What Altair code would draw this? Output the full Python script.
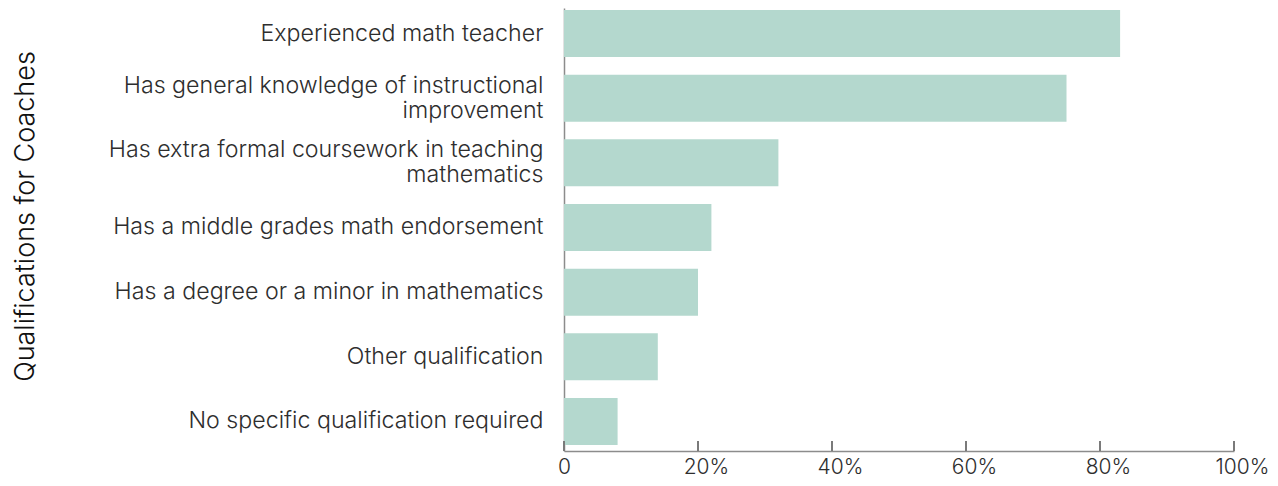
import altair as alt
import pandas as pd

categories = [
    "Experienced math teacher",
    "Has general knowledge of instructional\nimprovement",
    "Has extra formal coursework in teaching\nmathematics",
    "Has a middle grades math endorsement",
    "Has a degree or a minor in mathematics",
    "Other qualification",
    "No specific qualification required",
]
values = [83, 75, 32, 22, 20, 14, 8]
tick_values = [0, 20, 40, 60, 80, 100]

W = 670
H = 443
FONT = "Inter"
TEXT = "#2e2e2e"
AXIS = "#8c8c8c"

df = pd.DataFrame({"category": categories, "value": values})
ticks = pd.DataFrame({"t": tick_values})

bars = alt.Chart(df).mark_bar(color="#b4d8ce").encode(
    x=alt.X(
        "value:Q",
        scale=alt.Scale(domain=[0, 100], nice=False),
        axis=alt.Axis(
            values=tick_values,
            labelExpr="datum.value == 0 ? '0' : datum.value + '%'",
            labelOffset=alt.condition("datum.value == 0", alt.value(0), alt.value(8)),
            title=None,
            grid=False,
            ticks=False,
            domainColor=AXIS,
            domainWidth=1.5,
            labelFont=FONT,
            labelFontSize=21,
            labelFontWeight=300,
            labelColor=TEXT,
            labelPadding=5,
            labelFlush=False,
        ),
    ),
    y=alt.Y(
        "category:N",
        sort=None,
        scale=alt.Scale(paddingInner=0.273, paddingOuter=0.062, align=0.25),
        axis=alt.Axis(
            title="Qualifications for Coaches",
            titleFont=FONT,
            titleFontSize=27,
            titleFontWeight=300,
            titleColor="#111111",
            titleAngle=-90,
            titleAlign="center",
            titleBaseline="middle",
            titleX=-539,
            titleY=208,
            labelExpr="split(datum.label, '\\n')",
            labelOffset=alt.condition(
                "indexof(datum.value, '\\n') >= 0", alt.value(-12.5), alt.value(0)
            ),
            labelFont=FONT,
            labelFontSize=23.2,
            labelFontWeight=300,
            labelColor=TEXT,
            labelLineHeight=25,
            labelPadding=21,
            labelLimit=600,
            ticks=False,
            grid=False,
            domainColor=AXIS,
            domainWidth=1.5,
        ),
    ),
)

tick_marks = alt.Chart(ticks).mark_rule(color="#7a7a7a", strokeWidth=2).encode(
    x=alt.X("t:Q", scale=alt.Scale(domain=[0, 100], nice=False)),
    y=alt.value(H - 10),
    y2=alt.value(H),
)

chart = (
    alt.layer(bars, tick_marks)
    .properties(
        width=W,
        height=H,
        autosize=alt.AutoSizeParams(type="none"),
        padding={"left": 556, "top": 0, "right": 36, "bottom": 27},
    )
    .configure_view(stroke=None)
)

chart.save("out.html", embed_options={"renderer": "svg", "actions": False})
